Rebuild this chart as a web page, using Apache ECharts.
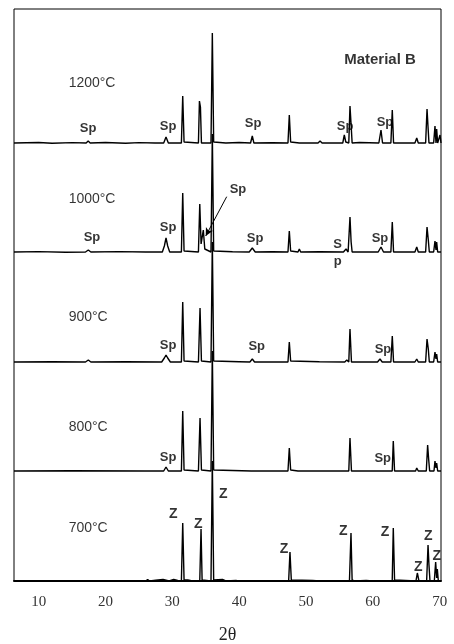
<!DOCTYPE html>
<html><head><meta charset="utf-8">
<script src="https://cdn.jsdelivr.net/npm/echarts@6/dist/echarts.min.js"></script>
<style>html,body{margin:0;padding:0;background:#fff}#c{width:454px;height:644px}</style>
</head><body><div id="c"></div>
<script>
// 2θ tick labels
const xTicks = [10, 20, 30, 40, 50, 60, 70];
// pattern names (top to bottom) and their vertical stacking offsets (a.u.)
const temps = ['1200°C', '1000°C', '900°C', '800°C', '700°C'];
const offsets = [438, 329, 219, 110, 0];
// intensity traces [2θ, intensity a.u.]
const t1200 = [[6.3,0],[10,0.5],[12,-0.3],[15,0.4],[17.1,0],[17.4,2],[17.7,0],[20,0.5],[23,-0.3],[25,0.4],[27.4,0],[27.66,2],[27.9,0],[28.7,0],[29.05,6],[29.4,0],[31.35,0],[31.55,47],[31.75,1],[33.9,0],[34.05,42],[34.2,36],[34.35,0],[35.78,0],[35.98,110],[36.18,1],[38,0],[40,0.5],[41.7,0],[41.96,7],[42.2,0],[45,0.3],[47.3,0],[47.5,28],[47.7,1],[49,0],[51.8,0],[52.1,2],[52.4,0],[55.5,0],[55.73,8],[55.95,1],[56.4,0],[56.58,37],[56.75,18],[56.9,0],[58,0.5],[60.9,0],[61.22,13],[61.45,0],[62.7,0],[62.91,33],[63.1,0],[66.3,0],[66.57,5],[66.8,0],[67.9,0],[68.11,34],[68.25,17],[68.4,0],[69.1,0],[69.3,17],[69.45,0],[69.55,14],[69.7,0],[69.9,0],[70.05,8],[70.2,0]];
const t1000 = [[6.3,0],[10,0.4],[14,-0.3],[17.0,0],[17.42,2],[17.8,0],[22,0.4],[26,0],[28.5,0],[28.8,6],[29.05,14],[29.3,6],[29.6,0],[31.35,0],[31.55,59],[31.75,1],[33.9,0],[34.1,48],[34.3,8],[34.63,22],[34.85,3],[35.78,0],[35.98,118],[36.18,1],[39,0.3],[41.5,0],[41.96,4],[42.4,0],[45,0.3],[47.3,0],[47.5,21],[47.7,1],[48.8,0],[49.0,3],[49.2,0],[52,0.3],[55.6,0],[55.99,3],[56.3,0],[56.4,0],[56.58,35],[56.75,10],[56.9,0],[58.1,0],[58.34,2],[58.6,0],[60.8,0],[61.22,5],[61.6,0],[62.7,0],[62.91,30],[63.1,0],[66.3,0],[66.57,5],[66.8,0],[67.9,0],[68.11,25],[68.3,12],[68.45,0],[69.1,0],[69.3,11],[69.45,2],[69.55,10],[69.7,0],[70.2,0]];
const t900 = [[6.3,0],[12,0.3],[17.0,0],[17.42,2],[17.8,0],[23,0.3],[28.4,0],[28.8,4],[29.05,7],[29.3,4],[29.7,0],[31.35,0],[31.55,60],[31.75,1],[33.9,0],[34.14,54],[34.35,1],[35.78,0],[35.98,120],[36.18,1],[40,0.3],[41.6,0],[41.96,3],[42.3,0],[47.3,0],[47.5,20],[47.7,1],[52,0.3],[55.8,0],[56.1,2],[56.4,0],[56.58,33],[56.8,0],[60.7,0],[61.07,3],[61.4,0],[62.7,0],[62.91,26],[63.1,0],[66.3,0],[66.57,3],[66.8,0],[67.9,0],[68.11,23],[68.3,13],[68.45,0],[69.1,0],[69.3,10],[69.45,3],[69.55,8],[69.7,0],[70.2,0]];
const t800 = [[6.3,0],[15,0.2],[25.9,0],[26.16,2],[26.4,0],[28.7,0],[29.05,4],[29.4,0],[31.35,0],[31.55,60],[31.75,1],[33.9,0],[34.14,53],[34.35,1],[35.78,0],[35.98,120],[36.18,1],[41.8,0],[41.96,1],[42.1,0],[47.3,0],[47.5,23],[47.7,1],[48.8,0],[49.0,2],[49.2,0],[51.6,0],[51.8,1.5],[52.0,0],[56.4,0],[56.58,33],[56.8,0],[58.5,0],[58.68,1],[58.9,0],[60.8,0],[61.07,2],[61.4,0],[62.9,0],[63.06,30],[63.25,0],[66.4,0],[66.57,3],[66.8,0],[68.0,0],[68.2,26],[68.35,12],[68.5,0],[69.15,0],[69.3,10],[69.45,3],[69.55,8],[69.7,0],[70.2,0]];
const t700 = [[6.3,0],[26,0],[26.3,1.5],[26.6,0],[27.5,0.8],[28.6,1.5],[29.5,0],[30.2,1.5],[30.8,0.5],[31.35,0],[31.55,58],[31.75,1],[32.3,1],[33,0],[34.1,0],[34.29,52],[34.45,1],[35.78,0],[35.98,120],[36.18,1],[37.5,1.5],[38,0],[39.5,0.5],[40,0],[47.4,0],[47.6,29],[47.8,1],[51,0.5],[52,0],[56.5,0],[56.73,48],[56.9,1],[57.2,0],[59,0.5],[60,0],[62.9,0],[63.06,53],[63.25,1],[66.45,0],[66.66,8],[66.9,0],[68.05,0],[68.26,36],[68.4,16],[68.55,0],[69.2,0],[69.4,19],[69.55,3],[69.65,12],[69.8,0],[70.2,0]];
const traces = [t1200, t1000, t900, t800, t700];
// phase annotations [2θ, stacked height, text]
const spLabels = [[17.4,453,'Sp'],[29.35,455,'Sp'],[42.07,458,'Sp'],[55.84,455,'Sp'],[61.82,459,'Sp'],
  [17.97,344,'Sp'],[29.35,354,'Sp'],[39.82,392,'Sp'],[42.37,343,'Sp'],[54.74,336.7,'S'],[54.74,319.3,'p'],[61.07,343,'Sp'],
  [29.35,236,'Sp'],[42.62,235,'Sp'],[61.52,232,'Sp'],
  [29.35,123.3,'Sp'],[61.48,123,'Sp']];
const zLabels = [[30.14,67,'Z'],[33.88,57,'Z'],[37.62,86.7,'Z'],[46.71,31.7,'Z'],[55.58,50.3,'Z'],[61.82,48.7,'Z'],[66.8,14.3,'Z'],[68.3,45,'Z'],[69.56,25,'Z']];
const tempLabelPos = [[14.4,498],[14.4,382],[14.4,264],[14.4,154],[14.4,53]];
const arrow = [[38.13,384.3],[34.99,345]];
const title = [61.07, 521, 'Material B'];

const chart = echarts.init(document.getElementById('c'), null, {renderer: 'canvas'});
const series = traces.map((tr, i) => ({
  type: 'line', data: tr.map(p => [p[0], p[1] + offsets[i]]),
  showSymbol: false, symbol: 'none', smooth: false, z: 3,
  lineStyle: {color: '#000', width: 1.4}, silent: true, clip: false
}));
series.push({
  type: 'scatter', symbolSize: 1, itemStyle: {color: 'rgba(0,0,0,0)'}, z: 5,
  data: spLabels.map(d => ({value: [d[0], d[1]], name: d[2]})),
  label: {show: true, position: 'inside', formatter: p => p.name, color: '#000',
    fontFamily: 'Liberation Sans', fontWeight: 'bold', fontSize: 13},
  markLine: {silent: true, symbol: ['none', 'arrow'], symbolSize: [6, 8], label: {show: false},
    lineStyle: {color: '#000', width: 1, type: 'solid'},
    data: [[{coord: arrow[0]}, {coord: arrow[1]}]]}
});
series.push({
  type: 'scatter', symbolSize: 1, itemStyle: {color: 'rgba(0,0,0,0)'}, z: 5,
  data: zLabels.map(d => ({value: [d[0], d[1]], name: d[2]})),
  label: {show: true, position: 'inside', formatter: p => p.name, color: '#000',
    fontFamily: 'Liberation Sans', fontWeight: 'bold', fontSize: 14}
});
series.push({
  type: 'scatter', symbolSize: 1, itemStyle: {color: 'rgba(0,0,0,0)'}, z: 5,
  data: tempLabelPos.map((d, i) => ({value: d, name: temps[i]})),
  label: {show: true, position: 'right', distance: 0, formatter: p => p.name, color: '#000',
    fontFamily: 'Liberation Sans', fontSize: 14}
});
series.push({
  type: 'scatter', symbolSize: 1, itemStyle: {color: 'rgba(0,0,0,0)'}, z: 5,
  data: [{value: [title[0], title[1]], name: title[2]}],
  label: {show: true, position: 'inside', formatter: p => p.name, color: '#000',
    fontFamily: 'Liberation Sans', fontWeight: 'bold', fontSize: 15}
});
chart.setOption({
  animation: false,
  grid: {left: 14, right: 13, top: 9, bottom: 63, show: true, borderColor: '#000', borderWidth: 1,
    backgroundColor: 'transparent', containLabel: false, outerBoundsMode: 'none'},
  xAxis: {
    type: 'value', min: 6.3, max: 70.2,
    name: '2θ', nameLocation: 'middle', nameGap: 45,
    nameTextStyle: {fontFamily: 'Liberation Serif', fontSize: 18, color: '#222'},
    axisLine: {show: true, onZero: false, lineStyle: {color: '#000', width: 2}},
    axisTick: {show: false},
    splitLine: {show: false},
    axisLabel: {customValues: xTicks, margin: 14, fontFamily: 'Liberation Serif', fontSize: 15, color: '#333'}
  },
  yAxis: {type: 'value', min: 0, max: 572, show: false, splitLine: {show: false}},
  series: series
});
</script></body></html>
